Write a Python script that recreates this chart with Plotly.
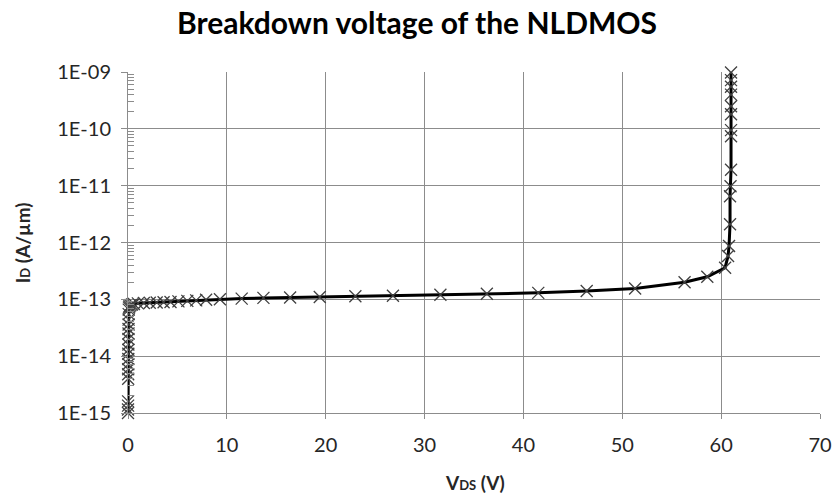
import plotly.graph_objects as go

# Drain current vs drain voltage sweep of the NLDMOS (off-state breakdown)
vds = [
    0.00, 0.00, 0.01, 0.01,
    0.02, 0.02, 0.02, 0.03, 0.03, 0.03, 0.04, 0.04, 0.04, 0.05,
    0.05, 0.06, 0.06, 0.07, 0.08, 0.10,
    0.15, 0.25, 0.40, 0.60,
    1.0, 1.6, 2.2, 2.9, 3.6, 4.3, 5.1, 6.0, 6.9, 7.9,
    9.3, 11.5, 13.7, 16.4, 19.4, 23.0, 26.8, 31.6, 36.3, 41.5,
    46.4, 51.3, 56.3, 58.6, 60.4,
    60.7, 60.8, 60.9, 60.9, 60.95, 61.0, 61.0, 61.0, 61.0, 61.0,
    61.0, 61.0, 61.0, 61.0,
]
id_a_per_um = [
    1.0e-15, 1.15e-15, 1.35e-15, 1.6e-15,
    4.0e-15, 4.8e-15, 5.9e-15, 7.2e-15, 8.9e-15, 1.1e-14, 1.3e-14, 1.6e-14, 2.0e-14, 2.5e-14,
    3.0e-14, 3.6e-14, 4.4e-14, 5.5e-14, 6.6e-14, 7.2e-14,
    7.6e-14, 7.9e-14, 8.1e-14, 8.3e-14,
    8.5e-14, 8.6e-14, 8.7e-14, 8.8e-14, 8.9e-14, 9.0e-14, 9.2e-14, 9.4e-14, 9.6e-14, 9.8e-14,
    1.0e-13, 1.03e-13, 1.06e-13, 1.08e-13, 1.10e-13, 1.13e-13, 1.16e-13, 1.20e-13, 1.25e-13, 1.30e-13,
    1.40e-13, 1.55e-13, 2.0e-13, 2.5e-13, 3.6e-13,
    5.8e-13, 8.7e-13, 2.1e-12, 6.5e-12, 9.8e-12, 1.9e-11, 7.4e-11, 9.5e-11, 1.8e-10, 2.5e-10,
    4.0e-10, 5.5e-10, 7.2e-10, 9.8e-10,
]

x_ticks = [0, 10, 20, 30, 40, 50, 60, 70]
y_ticks = [1e-15, 1e-14, 1e-13, 1e-12, 1e-11, 1e-10, 1e-09]
y_tick_labels = ["1E-15", "1E-14", "1E-13", "1E-12", "1E-11", "1E-10", "1E-09"]

# minor ticks on the log axis: 2..9 within each decade
y_minor = [m * d for d in y_ticks[:-1] for m in range(2, 10)]

GRID = "#8c8c8c"
TEXT = "#262626"
FONT = "Lato"

fig = go.Figure()
fig.add_trace(go.Scatter(
    x=vds, y=id_a_per_um,
    mode="lines+markers",
    line=dict(color="black", width=3),
    marker=dict(symbol="x-thin", size=12, line=dict(width=1.3, color="#404040")),
    cliponaxis=False,
    showlegend=False,
))

fig.update_layout(
    width=834, height=495,
    margin=dict(l=128, r=14, t=72, b=82, autoexpand=False),
    paper_bgcolor="white", plot_bgcolor="white",
    font=dict(family=FONT, color=TEXT),
    title=dict(
        text="<b>Breakdown voltage of the NLDMOS</b>",
        x=0.5, xref="container", xanchor="center",
        y=1 - 23 / 495, yref="container", yanchor="middle",
        font=dict(family=FONT, size=30, color="black"),
    ),
    xaxis=dict(
        range=[0, 70], tickvals=x_ticks, automargin=False,
        showgrid=True, gridcolor=GRID, gridwidth=1,
        showline=True, linecolor=GRID, linewidth=1,
        ticks="outside", ticklen=5, tickcolor=GRID,
        tickfont=dict(family=FONT, size=20, color=TEXT),
        ticklabelstandoff=9,
        zeroline=False,
    ),
    yaxis=dict(
        type="log", range=[-15, -9], automargin=False,
        tickmode="array", tickvals=y_ticks, ticktext=y_tick_labels,
        showgrid=True, gridcolor=GRID, gridwidth=1,
        showline=True, linecolor=GRID, linewidth=1,
        ticks="outside", ticklen=6, tickcolor=GRID,
        tickfont=dict(family=FONT, size=20, color=TEXT),
        ticklabelstandoff=6,
        minor=dict(tickmode="array", tickvals=y_minor, ticks="inside",
                   ticklen=6, tickcolor=GRID, showgrid=False),
        zeroline=False,
    ),
    annotations=[
        dict(
            text="<b>V<span style='font-size:13px'>DS</span> (V)</b>",
            xref="paper", yref="paper", x=0.501, y=-0.205,
            xanchor="center", yanchor="middle", showarrow=False,
            font=dict(family=FONT, size=19, color=TEXT),
        ),
        dict(
            text="<b>I<span style='font-size:13px'>D</span> (A/µm)</b>",
            xref="paper", yref="paper", x=-0.152, y=0.5,
            xanchor="center", yanchor="middle", showarrow=False, textangle=-90,
            font=dict(family=FONT, size=19, color=TEXT),
        ),
    ],
)

fig.write_html("out.html")
